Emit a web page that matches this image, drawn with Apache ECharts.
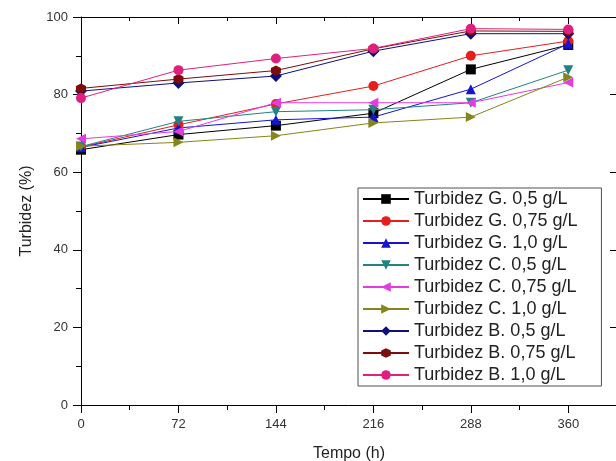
<!DOCTYPE html>
<html>
<head>
<meta charset="utf-8">
<script src="https://cdn.jsdelivr.net/npm/echarts@6/dist/echarts.min.js"></script>
<style>
  html, body { margin: 0; padding: 0; background: #fff; }
  #chart { width: 616px; height: 461px; }
</style>
</head>
<body>
<div id="chart"></div>
<script>
// tempo (h)
var tempos = [0, 72, 144, 216, 288, 360];

// turbidez (%) por ensaio
var turbG05  = [65.8, 69.7, 72.0, 75.2, 86.5, 92.8];
var turbG075 = [66.5, 72.2, 77.6, 82.2, 90.0, 93.8];
var turbG10  = [66.4, 71.4, 73.5, 74.2, 81.4, 93.1];
var turbC05  = [66.6, 73.1, 75.6, 76.1, 77.9, 86.3];
var turbC075 = [68.6, 70.5, 77.9, 77.9, 77.9, 83.1];
var turbC10  = [66.7, 67.7, 69.4, 72.7, 74.2, 84.5];
var turbB05  = [80.9, 83.0, 84.8, 91.2, 95.7, 95.7];
var turbB075 = [81.6, 84.0, 86.2, 91.8, 96.4, 96.3];
var turbB10  = [79.1, 86.3, 89.3, 91.9, 97.0, 96.8];

var nomes = [
    'Turbidez G. 0,5 g/L', 'Turbidez G. 0,75 g/L', 'Turbidez G. 1,0 g/L',
    'Turbidez C. 0,5 g/L', 'Turbidez C. 0,75 g/L', 'Turbidez C. 1,0 g/L',
    'Turbidez B. 0,5 g/L', 'Turbidez B. 0,75 g/L', 'Turbidez B. 1,0 g/L'
];

var fonte = '"Liberation Sans", Arial, sans-serif';
var hexagono = 'path://M5,0 L10,2.5 L10,7.5 L5,10 L0,7.5 L0,2.5 Z';

// estilo de cada curva: [dados, cor, simbolo, rotacao]
var estilos = [
    [turbG05,  '#000000', 'rect', 0],
    [turbG075, '#e61e1e', 'circle', 0],
    [turbG10,  '#1414d2', 'triangle', 0],
    [turbC05,  '#218383', 'triangle', 180],
    [turbC075, '#e23ce2', 'triangle', 90],
    [turbC10,  '#85851a', 'triangle', -90],
    [turbB05,  '#10107a', 'diamond', 0],
    [turbB075, '#7d0c0c', hexagono, 0],
    [turbB10,  '#e0207f', 'circle', 0]
];

function pares(valores) {
    return tempos.map(function (t, i) { return [t, valores[i]]; });
}

var series = estilos.map(function (e, i) {
    return {
        name: nomes[i],
        type: 'line',
        data: pares(e[0]),
        symbol: e[2],
        symbolRotate: e[3],
        symbolSize: e[2] === 'diamond' ? 12 : 10,
        showAllSymbol: true,
        lineStyle: { color: e[1], width: 1 },
        itemStyle: { color: e[1] },
        emphasis: { disabled: true },
        z: 2 + i
    };
});

var chart = echarts.init(document.getElementById('chart'));
chart.setOption({
    animation: false,
    backgroundColor: '#ffffff',
    grid: { left: 81, top: 17, width: 536, height: 388, outerBoundsMode: 'none' },
    legend: {
        orient: 'vertical',
        left: 358,
        top: 188,
        padding: [2, 24, 2, 4],
        itemWidth: 46,
        itemHeight: 12,
        itemGap: 4,
        backgroundColor: '#ffffff',
        borderColor: '#505050',
        borderWidth: 1,
        data: nomes,
        textStyle: { fontFamily: fonte, fontSize: 18, color: '#222' }
    },
    xAxis: [{
        type: 'value',
        min: 0,
        max: 396,
        interval: 72,
        name: 'Tempo (h)',
        nameLocation: 'middle',
        nameGap: 41,
        nameTextStyle: { fontFamily: fonte, fontSize: 16, color: '#222' },
        axisLine: { onZero: false, lineStyle: { color: '#000', width: 1 } },
        axisTick: { length: 8, lineStyle: { color: '#000' } },
        minorTick: { show: true, splitNumber: 2, length: 5, lineStyle: { color: '#000' } },
        splitLine: { show: false },
        axisLabel: {
            margin: 13,
            fontFamily: fonte,
            fontSize: 13,
            color: '#333',
            formatter: function (v) { return v <= 360 ? String(v) : ''; }
        }
    }, {
        type: 'value',
        position: 'top',
        min: 0,
        max: 396,
        interval: 72,
        axisLine: { onZero: false, lineStyle: { color: '#000', width: 1 } },
        axisTick: { inside: true, length: 7, lineStyle: { color: '#000' } },
        minorTick: { show: true, splitNumber: 2, length: 4, lineStyle: { color: '#000' } },
        splitLine: { show: false },
        axisLabel: { show: false }
    }],
    yAxis: [{
        type: 'value',
        min: 0,
        max: 100,
        interval: 20,
        name: 'Turbidez (%)',
        nameLocation: 'middle',
        nameGap: 46,
        nameTextStyle: { fontFamily: fonte, fontSize: 16, color: '#222' },
        axisLine: { show: true, onZero: false, lineStyle: { color: '#000', width: 1 } },
        axisTick: { show: true, length: 8, lineStyle: { color: '#000' } },
        minorTick: { show: true, splitNumber: 2, length: 5, lineStyle: { color: '#000' } },
        splitLine: { show: false },
        axisLabel: { margin: 13, fontFamily: fonte, fontSize: 13, color: '#333' }
    }, {
        type: 'value',
        position: 'right',
        min: 0,
        max: 100,
        interval: 20,
        axisLine: { show: true, onZero: false, lineStyle: { color: '#000', width: 1 } },
        axisTick: { show: true, inside: true, length: 7, lineStyle: { color: '#000' } },
        splitLine: { show: false },
        axisLabel: { show: false }
    }],
    series: series
});
</script>
</body>
</html>
